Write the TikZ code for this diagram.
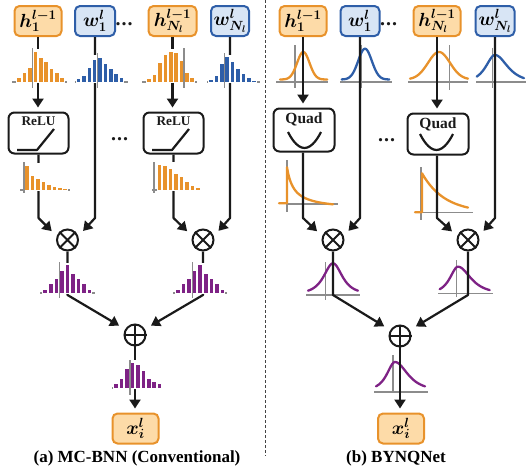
\RequirePackage{fix-cm}
\documentclass[tikz,border=0pt]{standalone}
\usepackage[no-math]{fontspec}
\setmainfont{Liberation Serif}
\usepackage{bm}
\usetikzlibrary{arrows.meta}

\definecolor{orgline}{HTML}{E8922B}
\definecolor{orgfill}{HTML}{FDDBA8}
\definecolor{blueline}{HTML}{2E5EA8}
\definecolor{bluefill}{HTML}{D8E5F5}
\definecolor{purp}{HTML}{7E2285}
\definecolor{axgray}{HTML}{8C8C8C}
\definecolor{inkblack}{HTML}{1A1A1A}
\definecolor{sepgray}{HTML}{444444}

\tikzset{
  declare function={gau(\q)=exp(-0.5*\q*\q); sch(\q)=2/(exp(\q)+exp(-\q));},
  hbox/.style={draw=orgline, fill=orgfill, line width=2pt, rounded corners=5pt,
    inner sep=0pt, minimum height=30pt, font=\fontsize{19}{22}\selectfont},
  wbox/.style={draw=blueline, fill=bluefill, line width=2pt, rounded corners=5pt,
    inner sep=0pt, minimum height=30pt, font=\fontsize{19}{22}\selectfont},
  opbox/.style={draw=inkblack, fill=white, line width=2pt, rounded corners=6pt},
  optext/.style={inner sep=0pt, text=inkblack},
  opnode/.style={circle, draw=inkblack, fill=white, line width=2pt, minimum size=21pt, inner sep=0pt},
  opmark/.style={draw=inkblack, line width=2pt},
  arr/.style={draw=inkblack, line width=2.2pt, line join=round,
    -{Triangle[length=9pt,width=11pt]}, shorten >=4pt},
  axis/.style={draw=axgray, line width=1.2pt},
  curve/.style={line width=2.3pt, line cap=round, line join=round},
  glyph/.style={draw=inkblack, line width=2.2pt, line join=round},
  captext/.style={inner sep=0pt, font=\fontsize{17}{20}\selectfont\bfseries},
  dotstext/.style={inner sep=0pt, text=inkblack, font=\fontsize{20}{20}\selectfont\bfseries},
  sepline/.style={draw=sepgray, line width=0.9pt, dash pattern=on 3pt off 2pt},
}

% bar histogram: colour, first centre, pitch, baseline, heights, axis left, axis right, tallest bar
\newcommand\histo[8]{%
  \fill[white] ({#6+2},#4) rectangle ({#7-2},{#4-#8-2});
  \draw[axis] (#6,#4) -- (#7,#4);
  \foreach \hh [count=\ii from 0] in {#5}
    \filldraw[fill=#1, draw=white, line width=0.5pt] ({#2+\ii*#3-2.3},#4) rectangle ++(4.6,-\hh);
}

% density curve: colour, shape, left end, peak, right end, left width, right width, floor, height
\newcommand\bell[9]{%
  \draw[curve, #1] plot[domain=#3:#4, samples=40, smooth] (\x,{#8-#9*#2((\x-#4)/#6)})
    -- plot[domain=#4:#5, samples=40, smooth] (\x,{#8-#9*#2((\x-#4)/#7)});
}

\begin{document}
\begin{tikzpicture}[x=1pt, y=-1pt]
\useasboundingbox (0,0) rectangle (526,472);

% ---------- helper rows ----------
\coordinate (bend) at (0,218);
\coordinate (pbase) at (0,295);

% ---------- (a) MC-BNN ----------
\node[hbox, minimum width=47pt] (hA) at (38,21) {$\bm{h_1^{l-1}}$};
\node[wbox, minimum width=40pt] (wA) at (95,21) {$\bm{w_1^{l}}$};
\node[dotstext] (dotsA) at (124,24) {.\kern1pt.\kern1pt.};
\node[hbox, minimum width=48pt] (hB) at (172.5,21) {$\bm{h_{N_l}^{l-1}}$};
\node[wbox, minimum width=38pt] (wB) at (230,21) {$\bm{w_{N_l}^{l}}$};

\node[opbox, minimum width=60pt, minimum height=41pt] (reluA) at (38.5,133) {};
\node[opbox, minimum width=60pt, minimum height=41pt] (reluB) at (173.5,133) {};
\node[optext, font=\fontsize{13.3}{15}\selectfont\bfseries, below=5pt] (reluAt) at (reluA.north) {ReLU};
\node[optext, font=\fontsize{13.3}{15}\selectfont\bfseries, below=5pt] (reluBt) at (reluB.north) {ReLU};
\draw[glyph] (17,150) -- (37,150) -- (54,129);
\draw[glyph] (152,150) -- (172,150) -- (189,129);
\node[dotstext] (dotsB) at (119.5,139) {.\kern1pt.\kern1pt.};

\node[opnode] (mulA) at (67.5,240) {};
\node[opnode] (mulB) at (203,240) {};
\node[opnode] (addA) at (135,335) {};
\node[hbox, minimum width=46pt, minimum height=30pt] (xA) at (135.5,428.5) {$\bm{x_i^l}$};
\node[captext] (capA) at (137,458) {(a) MC-BNN (Conventional)};

\draw[arr] (hA.south) -- (hA.south |- reluA.north);
\draw[arr, shorten >=7pt] (reluA.south) -- (reluA.south |- bend) -- (mulA.160);
\draw[arr, shorten >=7pt] (wA.south) -- (wA.south |- bend) -- (mulA.20);
\draw[arr] (hB.south) -- (hB.south |- reluB.north);
\draw[arr, shorten >=7pt] (reluB.south) -- (reluB.south |- bend) -- (mulB.160);
\draw[arr, shorten >=7pt] (wB.south) -- (wB.south |- bend) -- (mulB.20);
\draw[arr, shorten >=7pt] (mulA.south) -- (mulA.south |- pbase) -- (addA);
\draw[arr, shorten >=7pt] (mulB.south) -- (mulB.south |- pbase) -- (addA);
\draw[arr] (addA.south) -- (addA.south |- xA.north);

% sampled distributions
\histo{orgline}{19}{5.375}{82}{4.3,9.3,15,31,25,21,14,9.3,4.3}{12}{67}{31}
\draw[axis] (32.7,48) -- (32.7,88);
\histo{blueline}{78.3}{5.375}{82}{3.3,6.7,15,23,25,19,14,8.3,4.3}{75}{128}{25}
\draw[axis] (97.3,53) -- (97.3,88);
\histo{orgline}{149}{5.375}{82}{3.7,7.7,20,27.7,31,30,22,9.3,4.3}{142}{197}{31}
\draw[axis] (184,48) -- (184,88);
\histo{blueline}{210.7}{5.41}{82}{2.7,6.7,18.3,25.3,21,13.7,8.7,5,1.7}{207}{260}{25.3}
\draw[axis] (224.3,53) -- (224.3,88);
\histo{orgline}{26.7}{5.47}{190}{25,14.3,11.7,8.3,6,4,2.3,1.3}{20}{70}{25}
\draw[axis] (24,162) -- (24,193);
\histo{orgline}{159.3}{5.46}{190}{26,24.3,21.7,16.7,14,9,4.7,2.3,1}{152}{205}{26}
\draw[axis] (154,162) -- (154,193);
\histo{purp}{45}{5.54}{293}{4,9.3,15,22.7,28.3,20,15,9.3,4}{40}{95}{28.3}
\draw[axis] (59.3,262) -- (59.3,298);
\histo{purp}{177.7}{5.58}{293}{4,9.3,15,22.7,28.3,20,15,9.3,3.3}{173}{227}{28.3}
\draw[axis] (192.3,262) -- (192.3,298);
\histo{purp}{116}{5.41}{388}{4.3,9.3,20,26,23.3,17.7,9.3,6.7,4.3}{112}{160}{26}
\draw[axis] (130,360) -- (130,395);

\foreach \n in {mulA,mulB} \draw[opmark] (\n.45) -- (\n.225) (\n.135) -- (\n.315);
\draw[opmark] (addA.north) -- (addA.south) (addA.east) -- (addA.west);

% separator
\draw[sepline] (265,0) -- (265,456);

% ---------- (b) BYNQNet ----------
\node[hbox, minimum width=47pt] (hC) at (303,21) {$\bm{h_1^{l-1}}$};
\node[wbox, minimum width=39pt] (wC) at (360,21) {$\bm{w_1^{l}}$};
\node[dotstext] (dotsC) at (388.5,24) {.\kern1pt.\kern1pt.};
\node[hbox, minimum width=47pt] (hD) at (437,21) {$\bm{h_{N_l}^{l-1}}$};
\node[wbox, minimum width=39pt] (wD) at (495,21) {$\bm{w_{N_l}^{l}}$};

\node[opbox, minimum width=61pt, minimum height=43pt] (quadA) at (304,130) {};
\node[opbox, minimum width=61pt, minimum height=41pt] (quadB) at (438,134) {};
\node[optext, font=\fontsize{15.5}{17}\selectfont\bfseries, below=5pt] (quadAt) at (quadA.north) {Quad};
\node[optext, font=\fontsize{15.5}{17}\selectfont\bfseries, below=5pt] (quadBt) at (quadB.north) {Quad};
\draw[glyph] (288,132) parabola bend (304.5,148) (321,132);
\draw[glyph] (420,134) parabola bend (436.5,150) (453,134);
\node[dotstext] (dotsD) at (386.5,140) {.\kern1pt.\kern1pt.};

\node[opnode] (mulC) at (333,240) {};
\node[opnode] (mulD) at (468,240) {};
\node[opnode] (addB) at (400,336) {};
\node[hbox, minimum width=46pt, minimum height=30pt] (xB) at (401,428.5) {$\bm{x_i^l}$};
\node[captext] (capB) at (396,458) {(b) BYNQNet};

% analytic distributions
\draw[axis] (276,82) -- (328,82);  \draw[axis] (295,45) -- (295,88);
\bell{orgline}{gau}{280}{303.3}{327.3}{6.2}{6.2}{79.5}{27.5}
\draw[axis] (340,82) -- (391.7,82);  \draw[axis] (361,45) -- (361,88);
\bell{blueline}{gau}{341.7}{365}{389.3}{6.8}{6.8}{79.5}{30.8}
\draw[axis] (408,82) -- (468.3,82);  \draw[axis] (449.3,45) -- (449.3,90);
\bell{orgline}{gau}{410}{439}{468}{11}{11}{79.5}{27.5}
\draw[axis] (476,82) -- (526,82);  \draw[axis] (492.3,47.7) -- (492.3,88);
\bell{blueline}{sch}{476.7}{495}{524}{8}{11}{82}{27}

\draw[axis] (287,204) -- (338,204);  \draw[axis] (287,160) -- (287,211.7);
\draw[curve, orgline] (279,203.3) -- (287,203.3) -- (287,167.3)
  -- plot[domain=287:333, samples=40, smooth] (\x,{210-42.7/(1+(\x-287)/7)});
\draw[axis] (422,212.5) -- (473,212.5);  \draw[axis] (421,167) -- (421,220);
\draw[curve, orgline] (415,212.3) -- (422,212.3) -- (422,173.3)
  -- plot[domain=422:468, samples=40, smooth] (\x,{212.7-39.4*exp(-(\x-422)/22.6)});

\draw[axis] (306,295) -- (360,295);  \draw[axis] (325.7,262) -- (325.7,300);
\bell{purp}{sch}{308}{333}{358}{8}{8}{293.3}{30}
\draw[axis] (438,293.3) -- (493,293.3);  \draw[axis] (456.3,260) -- (456.3,296.7);
\bell{purp}{sch}{439.7}{458}{489.7}{7}{11}{293}{26.3}
\draw[axis] (374,392) -- (428,392);  \draw[axis] (393,355) -- (393,392);
\bell{purp}{sch}{376}{395}{425}{7}{11}{390}{28}

\draw[arr] (hC.south) -- (hC.south |- quadA.north);
\draw[arr, shorten >=7pt] (quadA.south -| hC.south) -- (hC.south |- bend) -- (mulC.160);
\draw[arr, shorten >=7pt] (wC.south) -- (wC.south |- bend) -- (mulC.20);
\draw[arr] (hD.south) -- (hD.south |- quadB.north);
\draw[arr, shorten >=7pt] (quadB.south -| hD.south) -- (hD.south |- bend) -- (mulD.160);
\draw[arr, shorten >=7pt] (wD.south) -- (wD.south |- bend) -- (mulD.20);
\draw[arr, shorten >=7pt] (mulC.south) -- (mulC.south |- pbase) -- (addB);
\draw[arr, shorten >=7pt] (mulD.south) -- (mulD.south |- pbase) -- (addB);
\draw[arr] (addB.south) -- (addB.south |- xB.north);

\foreach \n in {mulC,mulD} \draw[opmark] (\n.45) -- (\n.225) (\n.135) -- (\n.315);
\draw[opmark] (addB.north) -- (addB.south) (addB.east) -- (addB.west);
\end{tikzpicture}
\end{document}
